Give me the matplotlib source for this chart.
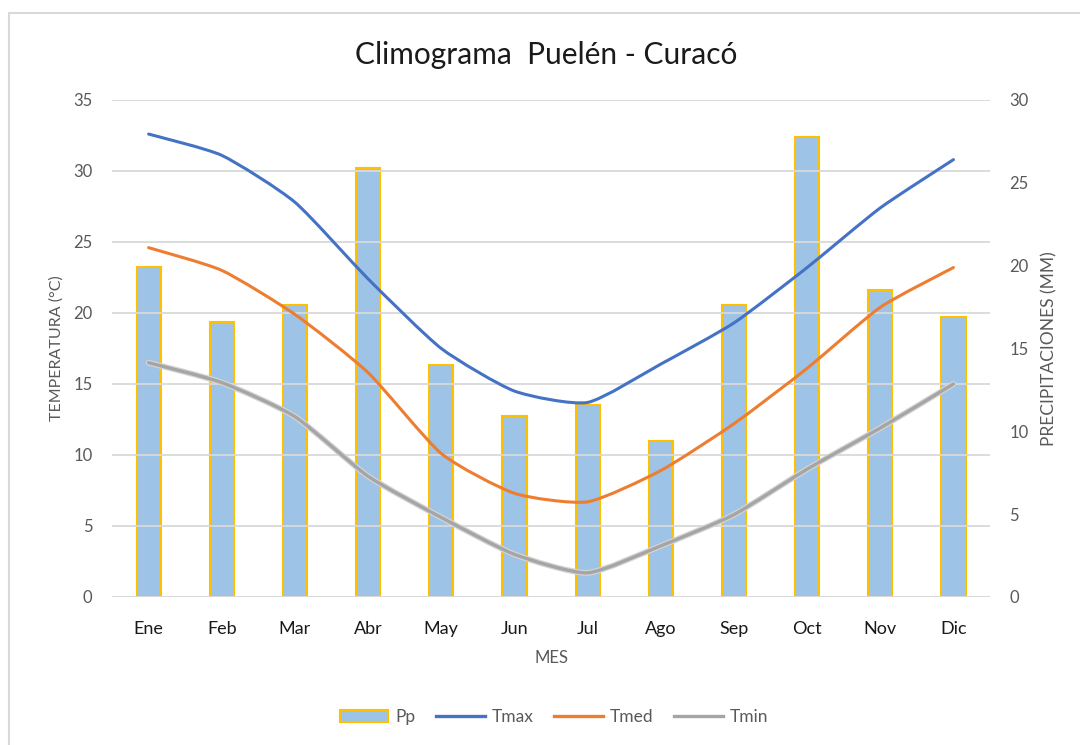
import numpy as np
import matplotlib
matplotlib.use("Agg")
import matplotlib.pyplot as plt
from matplotlib.path import Path
from matplotlib.patches import PathPatch, Patch
from matplotlib.lines import Line2D


MESES = ["Ene", "Feb", "Mar", "Abr", "May", "Jun", "Jul", "Ago", "Sep", "Oct", "Nov", "Dic"]
PP    = [19.9, 16.6, 17.6, 25.9, 14.0, 10.9, 11.6, 9.4, 17.6, 27.75, 18.5, 16.9]      ## mm
TMAX  = [32.6, 31.1, 27.8, 22.4, 17.5, 14.5, 13.7, 16.4, 19.3, 23.2, 27.4, 30.8]      ## deg C
TMED  = [24.6, 23.0, 19.9, 15.8, 10.1, 7.3, 6.7, 8.9, 12.2, 16.1, 20.4, 23.2]
TMIN  = [16.5, 15.1, 12.7, 8.5, 5.6, 3.0, 1.7, 3.6, 5.8, 9.0, 11.9, 15.0]

C_BAR, C_EDGE = "#9DC3E6", "#FFC000"
C_MAX, C_MED, C_MIN = "#4472C4", "#ED7D31", "#A5A5A5"
C_TXT = "#595959"
FONT = "Lato"


def smooth_path(x, y, k=10.0):
    ## catmull-rom like segments as cubic beziers, low tension (excel "smoothed line")
    P = np.column_stack([x, y]).astype(float)
    n = len(P)
    verts, codes = [P[0]], [Path.MOVETO]
    for i in range(n - 1):
        p0 = P[i - 1] if i > 0 else P[i]
        p3 = P[i + 2] if i + 2 < n else P[i + 1]
        c1 = P[i] + (P[i + 1] - p0) / k
        c2 = P[i + 1] - (p3 - P[i]) / k
        verts += [c1, c2, P[i + 1]]; codes += [Path.CURVE4] * 3
    return Path(verts, codes)


def draw_line(ax, y, color, lw=2.2, z=3):
    x = np.arange(len(y))
    ax.add_patch(PathPatch(smooth_path(x, y), fill=False, ec=color, lw=lw,
                           capstyle="round", joinstyle="round", zorder=z))


fig = plt.figure(figsize=(10.8, 7.45), dpi=100)
fig.patches.append(plt.Rectangle((9 / 1080, -0.05), 1.2, 1 - 13 / 745 + 0.05, transform=fig.transFigure,
                                 fill=False, ec="#D9D9D9", lw=1.5))

ax_t = fig.add_axes([0.1037, 0.1987, 0.813, 0.6671])
ax_p = ax_t.twinx()
x = np.arange(len(MESES))

## precipitation bars on the right axis, behind the temperature lines
ax_p.bar(x, PP, width=0.33, color=C_BAR, edgecolor=C_EDGE, linewidth=1.5, zorder=2)
ax_p.set_ylim(0, 30)
ax_p.set_yticks(np.arange(0, 31, 5))
ax_t.set_zorder(ax_p.get_zorder() + 1); ax_t.patch.set_visible(False)

draw_line(ax_t, TMIN, "#D4D4D4", lw=4.2, z=3)
draw_line(ax_t, TMIN, C_MIN, lw=2.4, z=3)
draw_line(ax_t, TMED, C_MED)
draw_line(ax_t, TMAX, C_MAX)
ax_t.set_ylim(0, 35)
ax_t.set_xlim(-0.5, len(MESES) - 0.5)
ax_t.set_yticks(np.arange(0, 36, 5))
ax_t.set_xticks(x, MESES)

for ax in (ax_t, ax_p):
    for s in ax.spines.values():
        s.set_visible(False)
    ax.tick_params(length=0, labelsize=12, labelcolor=C_TXT)
    for lab in ax.get_yticklabels():
        lab.set_fontfamily(FONT)
ax_t.yaxis.grid(True, color="#D9D9D9", lw=1.3, zorder=0)
ax_t.set_axisbelow(True)
ax_t.axhline(0, color="#D9D9D9", lw=1.3, zorder=1)
ax_t.tick_params(axis="y", pad=14)
ax_p.tick_params(axis="y", pad=14)
ax_t.tick_params(axis="x", pad=17, labelsize=13, labelcolor="#1A1A1A")
for lab in ax_t.get_xticklabels():
    lab.set_fontfamily(FONT)

ax_t.set_xlabel("MES", fontsize=12, color=C_TXT, family=FONT, labelpad=10)
ax_t.set_ylabel("TEMPERATURA (°C)", fontsize=11.5, color=C_TXT, family=FONT, labelpad=7)
ax_p.set_ylabel("PRECIPITACIONES (MM)", fontsize=12.5, color=C_TXT, family=FONT, labelpad=9)

fig.text(0.5055, 0.926, "Climograma  Puelén - Curacó", ha="center", va="center",
         fontsize=21.5, family=FONT, color="#1A1A1A")

handles = [Patch(fc=C_BAR, ec=C_EDGE, lw=1.5),
           Line2D([], [], color=C_MAX, lw=2.4),
           Line2D([], [], color=C_MED, lw=2.4),
           Line2D([], [], color=C_MIN, lw=2.4)]
leg = fig.legend(handles, ["Pp", "Tmax", "Tmed", "Tmin"], loc="center", bbox_to_anchor=(0.513, 0.037),
                 ncol=4, frameon=False, handlelength=2.8, handletextpad=0.4, columnspacing=1.2,
                 prop={"family": FONT, "size": 12.5})
for t in leg.get_texts():
    t.set_color(C_TXT)

fig.savefig("out.png", dpi=100)
